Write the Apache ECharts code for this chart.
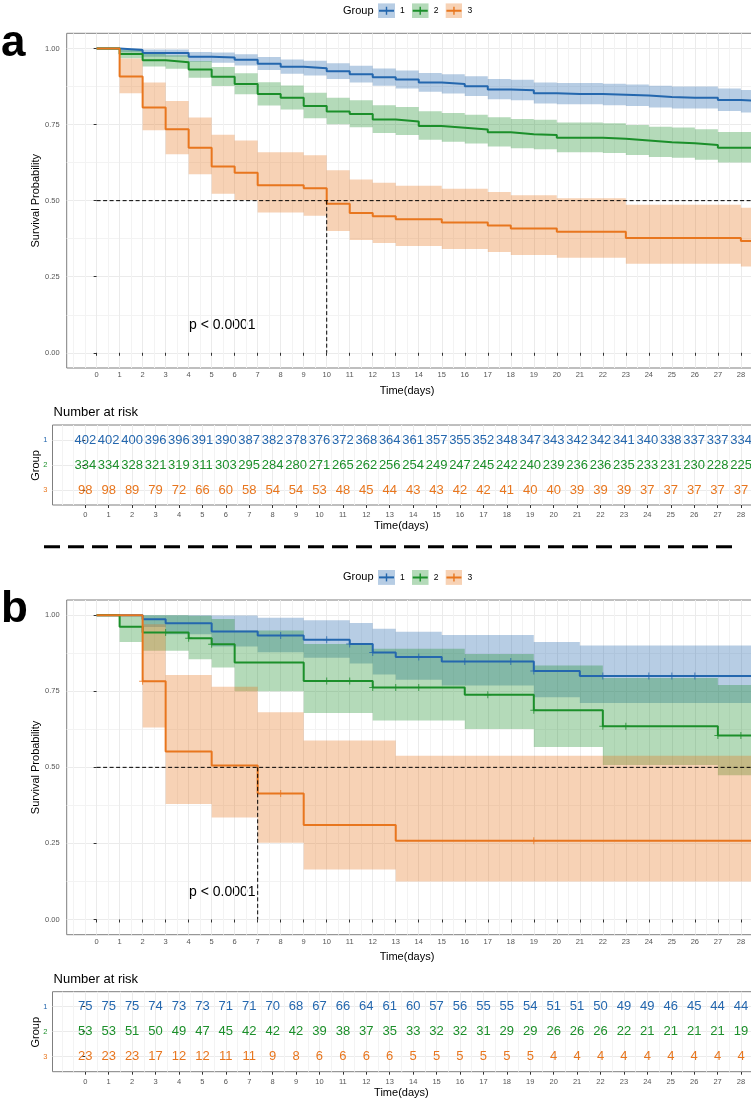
<!DOCTYPE html>
<html>
<head>
<meta charset="utf-8">
<title>Kaplan-Meier survival by group</title>
<script src="https://cdn.jsdelivr.net/npm/echarts@6.0.0/dist/echarts.min.js"></script>
<style>
html,body{margin:0;padding:0;background:#fff;}
#chart{width:751px;height:1101px;}
</style>
</head>
<body>
<div id="chart"></div>
<script>
// ================= DATA =================
const groups = ['1', '2', '3'];
const days = [0,1,2,3,4,5,6,7,8,9,10,11,12,13,14,15,16,17,18,19,20,21,22,23,24,25,26,27,28];
const survTicks = [0, 0.25, 0.5, 0.75, 1];
const survMinorTicks = [0.125, 0.375, 0.625, 0.875];
const tableRows = [1, 2, 3];
const followEnd = 29.4;       // curves continue past the last labelled day
const halfSurv = 0.5;
const medianA = 10;
const medianB = 7;
const pText = 'p < 0.0001';

// ---- panel a : survival estimate on [day, day+1) ----
const aSurv1 = [1, 0.995, 0.9851, 0.9851, 0.9726, 0.9701, 0.9627, 0.9502, 0.9403, 0.9353, 0.9254, 0.9154, 0.9055, 0.898, 0.8881, 0.8831, 0.8756, 0.8657, 0.8632, 0.8532, 0.8507, 0.8507, 0.8483, 0.8458, 0.8408, 0.8383, 0.8383, 0.8308, 0.8259];
const aLow1  = [1, 0.9881, 0.9733, 0.9733, 0.9568, 0.9536, 0.9443, 0.9292, 0.9174, 0.9116, 0.9001, 0.8886, 0.8773, 0.8689, 0.8578, 0.8522, 0.8439, 0.833, 0.8303, 0.8193, 0.8166, 0.8166, 0.8139, 0.8112, 0.8058, 0.8031, 0.8031, 0.7949, 0.7897];
const aUpp1  = [1, 1, 0.997, 0.997, 0.9887, 0.9869, 0.9814, 0.9717, 0.9638, 0.9596, 0.9514, 0.943, 0.9346, 0.9281, 0.9195, 0.9151, 0.9085, 0.8997, 0.8975, 0.8885, 0.8863, 0.8863, 0.8841, 0.8819, 0.8773, 0.8751, 0.8751, 0.8683, 0.8638];
const aSurv2 = [1, 0.982, 0.9611, 0.9551, 0.9311, 0.9072, 0.8832, 0.8503, 0.8383, 0.8114, 0.7934, 0.7844, 0.7665, 0.7605, 0.7455, 0.7395, 0.7335, 0.7246, 0.7186, 0.7156, 0.7066, 0.7066, 0.7036, 0.6976, 0.6916, 0.6886, 0.6826, 0.6737, 0.6737];
const aLow2  = [1, 0.9679, 0.9406, 0.9331, 0.9043, 0.8766, 0.8494, 0.8129, 0.7997, 0.7705, 0.7512, 0.7415, 0.7224, 0.7161, 0.7002, 0.6939, 0.6876, 0.6782, 0.6719, 0.6688, 0.6594, 0.6594, 0.6563, 0.65, 0.6438, 0.6407, 0.6345, 0.6252, 0.6252];
const aUpp2  = [1, 0.9963, 0.9821, 0.9776, 0.9587, 0.9389, 0.9183, 0.8894, 0.8787, 0.8545, 0.838, 0.8298, 0.8132, 0.8077, 0.7937, 0.7881, 0.7825, 0.7741, 0.7685, 0.7657, 0.7572, 0.7572, 0.7543, 0.7486, 0.7429, 0.7401, 0.7344, 0.7259, 0.7259];
const aSurv3 = [1, 0.9082, 0.8061, 0.7347, 0.6735, 0.6122, 0.5918, 0.551, 0.551, 0.5408, 0.4898, 0.4592, 0.449, 0.4388, 0.4388, 0.4286, 0.4286, 0.4184, 0.4082, 0.4082, 0.398, 0.398, 0.398, 0.3776, 0.3776, 0.3776, 0.3776, 0.3776, 0.3673];
const aLow3  = [1, 0.8528, 0.7315, 0.6523, 0.5868, 0.5229, 0.5021, 0.4608, 0.4608, 0.4506, 0.4002, 0.3704, 0.3606, 0.3508, 0.3508, 0.341, 0.341, 0.3313, 0.3216, 0.3216, 0.312, 0.312, 0.312, 0.2928, 0.2928, 0.2928, 0.2928, 0.2928, 0.2833];
const aUpp3  = [1, 0.9672, 0.8883, 0.8275, 0.773, 0.7167, 0.6976, 0.6588, 0.6588, 0.649, 0.5995, 0.5693, 0.5591, 0.5489, 0.5489, 0.5387, 0.5387, 0.5284, 0.5181, 0.5181, 0.5077, 0.5077, 0.5077, 0.4869, 0.4869, 0.4869, 0.4869, 0.4869, 0.4763];

// ---- panel b ----
const bSurv1 = [1, 1, 0.9867, 0.9733, 0.9733, 0.9467, 0.9467, 0.9333, 0.9333, 0.9196, 0.9196, 0.9057, 0.8774, 0.863, 0.863, 0.8479, 0.8479, 0.8479, 0.8479, 0.8165, 0.8165, 0.8005, 0.8005, 0.8005, 0.8005, 0.8005, 0.8005, 0.8005, 0.8005];
const bLow1  = [1, 1, 0.9611, 0.9376, 0.9376, 0.8972, 0.8972, 0.8786, 0.8786, 0.8599, 0.8599, 0.8415, 0.8054, 0.7875, 0.7875, 0.7688, 0.7688, 0.7688, 0.7688, 0.7307, 0.7307, 0.7116, 0.7116, 0.7116, 0.7116, 0.7116, 0.7116, 0.7116, 0.7116];
const bUpp1  = [1, 1, 1, 1, 1, 0.9989, 0.9989, 0.9915, 0.9915, 0.9834, 0.9834, 0.9747, 0.9558, 0.9458, 0.9458, 0.9351, 0.9351, 0.9351, 0.9351, 0.9123, 0.9123, 0.9003, 0.9003, 0.9003, 0.9003, 0.9003, 0.9003, 0.9003, 0.9003];
const bSurv2 = [1, 0.9623, 0.9434, 0.9434, 0.9242, 0.9045, 0.8442, 0.8442, 0.8442, 0.7839, 0.7839, 0.7839, 0.7627, 0.7627, 0.7627, 0.7627, 0.7389, 0.7389, 0.7389, 0.6879, 0.6879, 0.6879, 0.635, 0.635, 0.635, 0.635, 0.635, 0.6048, 0.6048];
const bLow2  = [1, 0.9123, 0.8832, 0.8832, 0.8554, 0.8282, 0.7504, 0.7504, 0.7504, 0.6784, 0.6784, 0.6784, 0.6537, 0.6537, 0.6537, 0.6537, 0.6257, 0.6257, 0.6257, 0.5669, 0.5669, 0.5669, 0.508, 0.508, 0.508, 0.508, 0.508, 0.4744, 0.4744];
const bUpp2  = [1, 1, 1, 1, 0.9985, 0.9878, 0.9497, 0.9497, 0.9497, 0.9058, 0.9058, 0.9058, 0.8899, 0.8899, 0.8899, 0.8899, 0.8725, 0.8725, 0.8725, 0.8348, 0.8348, 0.8348, 0.7937, 0.7937, 0.7937, 0.7937, 0.7937, 0.7709, 0.7709];
const bSurv3 = [1, 1, 0.7826, 0.5524, 0.5524, 0.5064, 0.5064, 0.4143, 0.4143, 0.3107, 0.3107, 0.3107, 0.3107, 0.259, 0.259, 0.259, 0.259, 0.259, 0.259, 0.259, 0.259, 0.259, 0.259, 0.259, 0.259, 0.259, 0.259, 0.259, 0.259];
const bLow3  = [1, 1, 0.631, 0.3797, 0.3797, 0.3354, 0.3354, 0.252, 0.252, 0.1641, 0.1641, 0.1641, 0.1641, 0.1246, 0.1246, 0.1246, 0.1246, 0.1246, 0.1246, 0.1246, 0.1246, 0.1246, 0.1246, 0.1246, 0.1246, 0.1246, 0.1246, 0.1246, 0.1246];
const bUpp3  = [1, 1, 0.9707, 0.8037, 0.8037, 0.7645, 0.7645, 0.6812, 0.6812, 0.5883, 0.5883, 0.5883, 0.5883, 0.5383, 0.5383, 0.5383, 0.5383, 0.5383, 0.5383, 0.5383, 0.5383, 0.5383, 0.5383, 0.5383, 0.5383, 0.5383, 0.5383, 0.5383, 0.5383];
// censoring times (panel b)
const bCensor1 = [8, 10, 11, 12, 14, 16, 18, 19, 22, 24, 25, 26];
const bCensor2 = [3, 4, 5, 10, 11, 12, 13, 14, 17, 19, 22, 23, 27, 28];
const bCensor3 = [2, 8, 19];

// ---- number at risk ----
const riskA1 = [402,402,400,396,396,391,390,387,382,378,376,372,368,364,361,357,355,352,348,347,343,342,342,341,340,338,337,337,334];
const riskA2 = [334,334,328,321,319,311,303,295,284,280,271,265,262,256,254,249,247,245,242,240,239,236,236,235,233,231,230,228,225];
const riskA3 = [98,98,89,79,72,66,60,58,54,54,53,48,45,44,43,43,42,42,41,40,40,39,39,39,37,37,37,37,37];
const riskB1 = [75,75,75,74,73,73,71,71,70,68,67,66,64,61,60,57,56,55,55,54,51,51,50,49,49,46,45,44,44];
const riskB2 = [53,53,51,50,49,47,45,42,42,42,39,38,37,35,33,32,32,31,29,29,26,26,26,22,21,21,21,21,19];
const riskB3 = [23,23,23,17,12,12,11,11,9,8,6,6,6,6,5,5,5,5,5,5,4,4,4,4,4,4,4,4,4];

// ================= STYLE =================
const FONT = "'Liberation Sans', Arial, Helvetica, sans-serif";
const COLORS = ['#2467AE', '#1B8F2A', '#E8761E'];
const BAND_OPACITY = 0.33;
const X_MIN_KM = -1.3, X_MIN_TAB = -1.4, X_MAX = 29.4;
const MAJOR = '#EBEBEB', MINOR = '#F3F3F3', BORDER = '#7f7f7f', TICKTXT = '#555';
const xMinor = [-1, -0.5].concat(days.map(d => d + 0.5));
const PLUS = 'path://M4.3,0h1.4v4.3h4.3v1.4h-4.3v4.3h-1.4v-4.3h-4.3v-1.4h4.3z';

function rgba(hex, a) {
  const n = parseInt(hex.slice(1), 16);
  return 'rgba(' + ((n >> 16) & 255) + ',' + ((n >> 8) & 255) + ',' + (n & 255) + ',' + a + ')';
}
function gridBox(left, top, width, height) {
  return { left, top, width, height, show: true, borderColor: BORDER, borderWidth: 1,
           backgroundColor: '#fff', containLabel: false, outerBoundsMode: 'none' };
}
function xAxes(gridIndex, min, labelMargin) {
  return [{
    type: 'value', gridIndex, min, max: X_MAX, position: 'bottom',
    axisLine: { show: false },
    axisTick: { show: true, length: 3, customValues: days, lineStyle: { color: '#333', width: 1 } },
    axisLabel: { show: true, customValues: days, fontSize: 7.5, color: TICKTXT, margin: labelMargin, fontFamily: FONT },
    splitLine: { show: true, lineStyle: { color: MAJOR, width: 1 } }
  }, {
    type: 'value', gridIndex, min, max: X_MAX, position: 'bottom',
    axisLine: { show: false },
    axisTick: { show: false, customValues: xMinor },
    axisLabel: { show: false },
    splitLine: { show: true, lineStyle: { color: MINOR, width: 1 } }
  }];
}
function kmYAxes(gridIndex) {
  return [{
    type: 'value', gridIndex, min: -0.05, max: 1.05,
    axisLine: { show: false },
    axisTick: { show: true, length: 3, customValues: survTicks, lineStyle: { color: '#333', width: 1 } },
    axisLabel: { customValues: survTicks, formatter: v => Number(v).toFixed(2), fontSize: 7.5, color: TICKTXT, margin: 7, fontFamily: FONT },
    splitLine: { show: true, lineStyle: { color: MAJOR, width: 1 } }
  }, {
    type: 'value', gridIndex, min: -0.05, max: 1.05,
    axisLine: { show: false },
    axisTick: { show: false, customValues: survMinorTicks },
    axisLabel: { show: false },
    splitLine: { show: true, lineStyle: { color: MINOR, width: 1 } }
  }];
}
function tabYAxis(gridIndex) {
  const rich = {};
  tableRows.forEach((r, i) => { rich['g' + r] = { color: COLORS[i], fontSize: 7.5, fontFamily: FONT }; });
  return {
    type: 'value', gridIndex, min: 0.4, max: 3.6, inverse: true,
    axisLine: { show: false },
    axisTick: { show: true, length: 3, customValues: tableRows, lineStyle: { color: '#333', width: 1 } },
    axisLabel: { customValues: tableRows, formatter: v => '{g' + v + '|' + v + '}', rich, fontSize: 7.5, margin: 5 },
    splitLine: { show: true, lineStyle: { color: MAJOR, width: 1 } }
  };
}

const panels = [
  { key: 'a', kmX: 0, kmY: 0, tabX: 2, tabY: 2,
    surv: [aSurv1, aSurv2, aSurv3], low: [aLow1, aLow2, aLow3], upp: [aUpp1, aUpp2, aUpp3],
    risk: [riskA1, riskA2, riskA3], censor: null, median: medianA },
  { key: 'b', kmX: 4, kmY: 3, tabX: 6, tabY: 5,
    surv: [bSurv1, bSurv2, bSurv3], low: [bLow1, bLow2, bLow3], upp: [bUpp1, bUpp2, bUpp3],
    risk: [riskB1, riskB2, riskB3], censor: [bCensor1, bCensor2, bCensor3], median: medianB }
];

function stepPairs(vals) {
  return days.map((d, i) => [d, vals[i]]).concat([[followEnd, vals[vals.length - 1]]]);
}

// confidence band as one step-shaped polygon, positioned through the axis scales
function bandSeries(P, i, ax) {
  const lo = P.low[i], up = P.upp[i];
  const xs = days.concat([followEnd]);
  const fill = rgba(COLORS[i], BAND_OPACITY);
  return Object.assign({
    type: 'custom', name: groups[i], silent: true, z: 2,
    dimensions: ['day', 'low', 'upp'], encode: { x: 0, y: [1, 2] },
    data: days.map((d, k) => [d, lo[k], up[k]]),
    renderItem: (params, api) => {
      if (params.dataIndex !== 0) return null;
      const pts = [];
      for (let k = 0; k < days.length; k++) {
        pts.push(api.coord([xs[k], up[k]]), api.coord([xs[k + 1], up[k]]));
      }
      for (let k = days.length - 1; k >= 0; k--) {
        pts.push(api.coord([xs[k + 1], lo[k]]), api.coord([xs[k], lo[k]]));
      }
      return { type: 'polygon', shape: { points: pts }, style: { fill } };
    }
  }, ax);
}

const series = [];
panels.forEach(P => {
  const ax = { xAxisIndex: P.kmX, yAxisIndex: P.kmY };
  // survival curves
  groups.forEach((g, i) => {
    series.push(Object.assign({
      type: 'line', name: g, data: stepPairs(P.surv[i]), step: 'end', symbol: 'none',
      lineStyle: { color: COLORS[i], width: 2 }, itemStyle: { color: COLORS[i] },
      clip: true, z: 2
    }, ax));
  });
  // censor marks
  if (P.censor) {
    groups.forEach((g, i) => {
      series.push(Object.assign({
        type: 'scatter', name: g, data: P.censor[i].map(t => [t, P.surv[i][t]]),
        symbol: PLUS, symbolSize: 7, itemStyle: { color: COLORS[i] }, z: 2, silent: true
      }, ax));
    });
  }
  // confidence bands (drawn above the curves, translucent)
  groups.forEach((g, i) => series.push(bandSeries(P, i, ax)));
  // median lines
  const dash = { color: '#000', width: 1, type: [4, 2.5] };
  series.push(Object.assign({ type: 'line', data: [[0, halfSurv], [followEnd, halfSurv]], symbol: 'none',
    lineStyle: dash, clip: true, silent: true, z: 4 }, ax));
  series.push(Object.assign({ type: 'line', data: [[P.median, halfSurv], [P.median, 0]], symbol: 'none',
    lineStyle: dash, clip: true, silent: true, z: 4 }, ax));
  // number-at-risk table
  groups.forEach((g, i) => {
    const color = COLORS[i];
    series.push({
      type: 'custom', xAxisIndex: P.tabX, yAxisIndex: P.tabY,
      dimensions: ['day', 'group', 'n'], encode: { x: 0, y: 1 },
      data: days.map((d, k) => [d, tableRows[i], P.risk[i][k]]),
      silent: true, z: 3,
      renderItem: (params, api) => {
        const pt = api.coord([api.value(0), api.value(1)]);
        return { type: 'text', x: pt[0], y: pt[1],
          style: { text: String(api.value(2)), fill: color, fontSize: 13, fontFamily: FONT,
                   align: 'center', verticalAlign: 'middle' } };
      }
    });
  });
});

function legendIcon(color) {
  const svg = '<svg xmlns="http://www.w3.org/2000/svg" width="17" height="15" viewBox="0 0 17 15">' +
    '<rect x="0" y="0" width="17" height="15" fill="' + color + '" fill-opacity="0.33"/>' +
    '<line x1="1" y1="7.5" x2="16" y2="7.5" stroke="' + color + '" stroke-width="2"/>' +
    '<line x1="8.5" y1="3.5" x2="8.5" y2="11.5" stroke="' + color + '" stroke-width="1.4"/></svg>';
  return 'image://data:image/svg+xml;charset=utf-8,' + encodeURIComponent(svg);
}
function legendAt(top) {
  return {
    left: 378, top, orient: 'horizontal', padding: 0, itemWidth: 17, itemHeight: 15, itemGap: 7,
    textStyle: { fontSize: 8.5, color: '#000', fontFamily: FONT, padding: [0, 0, 0, 0] },
    data: groups.map((g, i) => ({ name: g, icon: legendIcon(COLORS[i]) }))
  };
}

function txt(text, x, y, extra, rot) {
  const el = { type: 'text', x, y, silent: true,
    style: Object.assign({ text, fill: '#000', fontSize: 11, fontFamily: FONT, align: 'center', verticalAlign: 'middle' }, extra || {}) };
  if (rot) el.rotation = rot;
  return el;
}
const SHIFT = 566.7;
const graphic = [];
[0, SHIFT].forEach((s, idx) => {
  graphic.push(txt(idx === 0 ? 'a' : 'b', 1, 43.5 + s, { fontSize: 44, fontWeight: 'bold', align: 'left' }));
  graphic.push(txt('Group', 373.5, 10.7 + s, { align: 'right' }));
  graphic.push(txt('Survival Probability', 35.7, 200.7 + s, {}, Math.PI / 2));
  graphic.push(txt('Time(days)', 407, 390.7 + s));
  graphic.push(txt(pText, 189, 325 + s, { fontSize: 14, align: 'left' }));
  graphic.push(txt('Number at risk', 53.6, 412.3 + s, { fontSize: 13, align: 'left' }));
  graphic.push(txt('Group', 36, 465.5 + s, {}, Math.PI / 2));
  graphic.push(txt('Time(days)', 401.4, 526 + s));
});
graphic.push({ type: 'line', silent: true, shape: { x1: 44, y1: 546.7, x2: 733, y2: 546.7 },
  style: { stroke: '#000', lineWidth: 3, lineDash: [16, 8] } });

const option = {
  animation: false,
  backgroundColor: '#fff',
  textStyle: { fontFamily: FONT },
  legend: [legendAt(3.2), legendAt(3.2 + SHIFT)],
  grid: [
    gridBox(66.7, 33.3, 706.4, 334.7),
    gridBox(52.5, 425, 721.3, 80),
    gridBox(66.7, 33.3 + SHIFT, 706.4, 334.7),
    gridBox(52.5, 425 + SHIFT, 721.3, 80)
  ],
  xAxis: [].concat(xAxes(0, X_MIN_KM, 3), xAxes(1, X_MIN_TAB, 6), xAxes(2, X_MIN_KM, 3), xAxes(3, X_MIN_TAB, 6)),
  yAxis: [].concat(kmYAxes(0), [tabYAxis(1)], kmYAxes(2), [tabYAxis(3)]),
  series,
  graphic
};

const chart = echarts.init(document.getElementById('chart'), null, { renderer: 'canvas' });
chart.setOption(option);
</script>
</body>
</html>
